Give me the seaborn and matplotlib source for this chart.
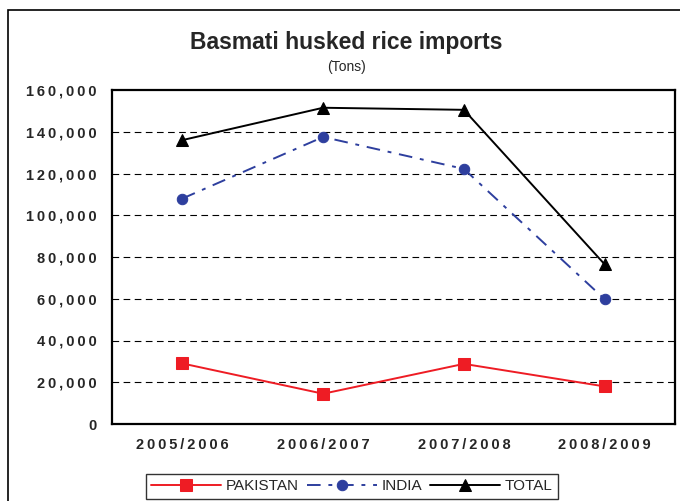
import matplotlib
matplotlib.use("Agg")
import matplotlib.pyplot as plt
import seaborn as sns
import pandas as pd
from matplotlib.patches import Rectangle
from matplotlib.ticker import FuncFormatter

# chart data
seasons = ["2005/2006", "2006/2007", "2007/2008", "2008/2009"]
pakistan = [29000, 14500, 28800, 18000]
india = [108000, 137500, 122200, 59800]
total = [136000, 151500, 150500, 76500]

sns.set_style("white")
plt.rcParams['font.family'] = ['Liberation Sans', 'DejaVu Sans']

SP = "\u2009"  # thin space, mimics the letter spacing of the original


def spaced(s):
    return SP.join(s)


df = pd.DataFrame({
    "pos": list(range(len(seasons))) * 3,
    "value": pakistan + india + total,
    "series": ["PAKISTAN"] * 4 + ["INDIA"] * 4 + ["TOTAL"] * 4,
})

fig = plt.figure(figsize=(6.8, 5.01), dpi=100)
ax = fig.add_axes([112 / 680, 77 / 501, 563 / 680, 334 / 501])

styles = {
    "PAKISTAN": dict(color="#ee1c24", marker="s", linestyle="-", ms=8),
    "INDIA": dict(color="#2e3f9e", marker="o", linestyle=(0, (7, 4, 2, 4)), ms=7.5),
    "TOTAL": dict(color="black", marker="^", linestyle="-", ms=8.5),
}
for name, st in styles.items():
    sub = df[df["series"] == name]
    sns.lineplot(data=sub, x="pos", y="value", ax=ax, color=st["color"],
                 marker=st["marker"], linestyle=st["linestyle"], markersize=st["ms"],
                 markeredgecolor=st["color"], linewidth=1.4, label=name)

ax.set_xlim(-0.5, 3.5)
ax.set_ylim(0, 160000)
ax.set_yticks(range(0, 160001, 20000))
ax.yaxis.set_major_formatter(FuncFormatter(lambda v, p: spaced(f"{int(v):,}")))
ax.set_xticks([i + 0.5 for i in range(-1, 4)])
ax.set_xticklabels([])
ax.set_xticks(range(len(seasons)), minor=True)
ax.set_xticklabels([spaced(s) for s in seasons], minor=True)
ax.tick_params(axis="x", which="minor", length=0, pad=10)
ax.tick_params(axis="x", which="major", length=5, direction="out", width=1)
ax.tick_params(axis="y", length=5, direction="out", width=1, pad=6)
for lab in ax.get_yticklabels() + ax.get_xticklabels(minor=True):
    lab.set_fontweight("bold")
    lab.set_fontsize(10.5)
ax.set_xlabel("")
ax.set_ylabel("")
for y in range(20000, 160000, 20000):
    ax.axhline(y, color="black", linestyle=(0, (6, 4)), linewidth=0.8, zorder=0)
for sp in ax.spines.values():
    sp.set_linewidth(1.6)
    sp.set_color("black")

fig.text(346 / 680, 458 / 501, "Basmati husked rice imports",
         ha="center", va="center", fontsize=16.5, fontweight="bold")
fig.text(346 / 680, 434 / 501, "(Tons)",
         ha="center", va="center", fontsize=10)

leg = ax.legend(loc="upper center", bbox_to_anchor=(0.426, -0.15), ncol=3,
                frameon=True, fancybox=False, edgecolor="black", fontsize=11,
                handlelength=4.6, columnspacing=0.5, handletextpad=0.3,
                borderpad=0.35, borderaxespad=0)
leg.get_frame().set_linewidth(1.0)

fig.patches.append(Rectangle((8 / 680, -0.01), 1.0, (501 - 10) / 501 + 0.01,
                             transform=fig.transFigure, fill=False,
                             edgecolor="black", linewidth=1.2))

fig.savefig("out.png", dpi=100)
